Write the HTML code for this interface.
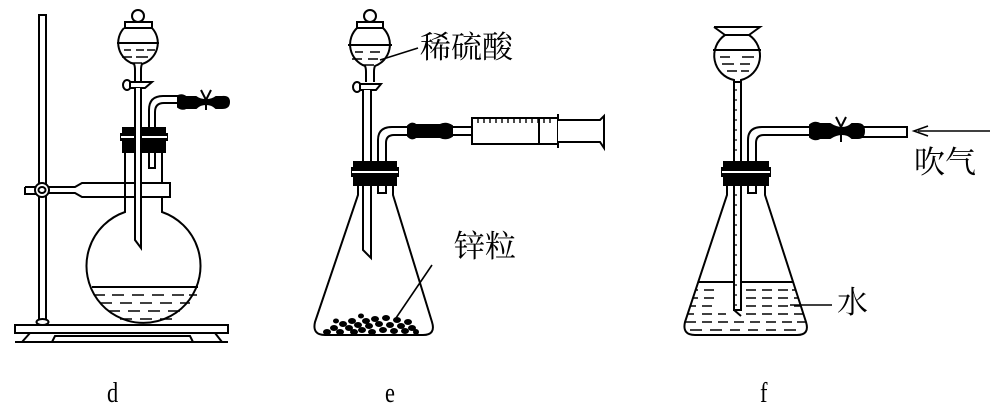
<!DOCTYPE html>
<html><head><meta charset="utf-8"><style>
html,body{margin:0;padding:0;background:#fff;width:1000px;height:411px;overflow:hidden}
svg{display:block}
text{font-family:"Liberation Serif","Noto Serif CJK SC",serif;fill:#000}
.cj{font-family:"Liberation Serif","Noto Serif CJK SC","Noto Sans CJK SC",serif}
</style></head><body>
<svg width="1000" height="411" viewBox="0 0 1000 411" xmlns="http://www.w3.org/2000/svg" fill="none" stroke="#000" stroke-width="2">
<defs>
<clipPath id="cf"><path d="M727 195 L685 322 Q682 335 695 335 H797 Q810 335 806 322 L765 195 Z"/></clipPath>
</defs>
<!-- ===== d ===== -->
<rect x="39" y="15" width="7" height="308" fill="#fff"/>
<ellipse cx="42.5" cy="322" rx="6" ry="3" fill="#fff"/>
<rect x="15" y="325" width="213" height="8" fill="#fff"/>
<path d="M22 342 L30 333 M215 333 L222 342 M15 342 H228" />
<path d="M52 342 L55 336 H190 L193 342"/>
<path d="M25 187 H36 M25 187 V194 H36" />
<path d="M48 187 H75 L82 183 H170 V197 H82 L75 193 H48" fill="#fff"/>
<ellipse cx="42" cy="190" rx="7" ry="7" fill="#fff"/>
<ellipse cx="42" cy="190" rx="3.5" ry="3" />
<path d="M125 152 V212 A57 57 0 1 0 162 212 V152" fill="#fff"/>
<rect x="126" y="184" width="42" height="12" fill="#fff" stroke="none"/>
<path d="M82 183 H170 V197 H82"/>
<path d="M92 287 H198" />
<g stroke-width="1.6">
<path d="M95 295h10M112 295h12M132 295h12M152 295h12M172 295h12M189 295h8"/>
<path d="M100 303h12M120 303h12M140 303h12M160 303h12M180 303h10"/>
<path d="M108 311h12M128 311h12M148 311h12M168 311h12"/>
<path d="M120 319h12M140 319h12M160 319h12"/>
</g>
<path d="M123 128 H165 V134 H167 V140 H165 V152 H123 V140 H121 V134 H123 Z" fill="#000"/>
<path d="M121 137 H167" stroke="#fff" stroke-width="2"/>
<!-- funnel d -->
<circle cx="138" cy="16" r="6" fill="#fff"/>
<rect x="125" y="22" width="27" height="6" fill="#fff"/>
<path d="M124 28 A22 22 0 0 0 134 64 Q135 66 135 70 V82 M152 28 A22 22 0 0 1 142 64 Q141 66 141 70 V82 M124 28 H152" fill="#fff"/>
<path d="M117 43 H159"/>
<g stroke-width="1.6"><path d="M124 50h7M136 50h8M147 50h8M122 57h10M136 57h12M130 63h12"/></g>
<ellipse cx="127" cy="85" rx="4" ry="5" fill="#fff"/>
<path d="M130 82 H152 L145 88 H130 Z" fill="#fff"/>
<path d="M135 88 V240 L141 248 V88" fill="#fff"/>
<path d="M149 128 V110 Q149 96 163 96 H180 M155 128 V112 Q155 103 164 103 H180" />
<path d="M149 152 V168 H155 V152"/>
<path d="M178 96 Q182 94 186 97 H196 Q200 100 206 100 Q212 100 216 97 H222 Q229 96 229 102 Q229 108 222 108 H216 Q212 104 206 104 Q200 104 196 108 H186 Q182 110 178 107 Z" fill="#000"/>
<path d="M201 90 L206 100 L211 90 M206 100 V110" />
<!-- ===== e ===== -->
<circle cx="370" cy="16" r="6" fill="#fff"/>
<rect x="357" y="22" width="26" height="6" fill="#fff"/>
<path d="M357 28 A23 23 0 0 0 365 66 Q366 68 366 72 V82 M383 28 A23 23 0 0 1 375 66 Q374 68 374 72 V82 M357 28 H383" fill="#fff"/>
<path d="M348 45 H392"/>
<g stroke-width="1.6"><path d="M355 52h8M370 52h10M352 59h10M368 59h10M362 65h12"/></g>
<ellipse cx="357" cy="87" rx="4" ry="5" fill="#fff"/>
<path d="M360 84 H381 L376 90 H360 Z" fill="#fff"/>
<path d="M363 90 V250 L371 258 V90" fill="#fff"/>
<path d="M358 185 V195 L315 322 Q312 335 325 335 H423 Q436 335 432 322 L393 195 V185" fill="#fff"/>
<path d="M363 185 V250 L371 258 V185"/>
<path d="M378 185 V193 H386 V185"/>
<path d="M354 162 H396 V168 H398 V176 H396 V185 H354 V176 H352 V168 H354 Z" fill="#000"/>
<path d="M352 172 H398" stroke="#fff" stroke-width="2"/>
<path d="M378 162 V140 Q378 127 392 127 H410 M386 162 V143 Q386 135 394 135 H410"/>
<path d="M408 126 Q412 122 416 125 H440 Q446 122 452 126 V136 Q446 140 440 137 H416 Q412 140 408 136 Z" fill="#000"/>
<path d="M452 127 H472 M452 135 H472"/>
<rect x="472" y="118" width="86" height="26" fill="#fff"/>
<path d="M558 114 V148 M539 118 V144"/>
<g stroke-width="1.4"><path d="M478 118v5M484 118v5M490 118v5M496 118v5M502 118v5M508 118v5M514 118v5M520 118v5M526 118v5M532 118v5M538 118v5M544 118v5M550 118v5"/></g>
<path d="M558 120 H600 L604 116 V148 L600 142 H558" fill="#fff"/>
<g fill="#000" stroke="none">
<ellipse cx="327" cy="332" rx="4" ry="3"/><ellipse cx="334" cy="328" rx="4" ry="3"/><ellipse cx="340" cy="332" rx="4" ry="3"/><ellipse cx="343" cy="324" rx="4" ry="3"/><ellipse cx="349" cy="328" rx="4" ry="3"/><ellipse cx="354" cy="332" rx="4" ry="3"/><ellipse cx="352" cy="321" rx="4" ry="3"/><ellipse cx="358" cy="325" rx="4" ry="3"/><ellipse cx="362" cy="330" rx="4" ry="3"/><ellipse cx="366" cy="321" rx="4" ry="3"/><ellipse cx="369" cy="326" rx="4" ry="3"/><ellipse cx="372" cy="332" rx="4" ry="3"/><ellipse cx="375" cy="319" rx="4" ry="3"/><ellipse cx="379" cy="324" rx="4" ry="3"/><ellipse cx="383" cy="330" rx="4" ry="3"/><ellipse cx="386" cy="318" rx="4" ry="3"/><ellipse cx="390" cy="325" rx="4" ry="3"/><ellipse cx="394" cy="331" rx="4" ry="3"/><ellipse cx="397" cy="320" rx="4" ry="3"/><ellipse cx="401" cy="326" rx="4" ry="3"/><ellipse cx="405" cy="331" rx="4" ry="3"/><ellipse cx="408" cy="322" rx="4" ry="3"/><ellipse cx="412" cy="328" rx="4" ry="3"/><ellipse cx="416" cy="332" rx="3" ry="3"/><ellipse cx="336" cy="321" rx="3" ry="2.5"/><ellipse cx="361" cy="316" rx="3" ry="2.5"/>
</g>
<path d="M380 60 L418 48" stroke-width="1.6"/>
<path d="M432 265 L396 318" stroke-width="1.6"/>
<!-- ===== f ===== -->
<path d="M714 27 H760 L749 35 M714 27 L725 35" />
<path d="M725 35 A25 25 0 0 0 734 80 V84 M749 35 A25 25 0 0 1 741 80 V84 M725 35 H749" fill="#fff"/>
<path d="M713 50 H761"/>
<g stroke-width="1.6"><path d="M720 57h10M742 57h12M722 64h12M740 64h10M727 71h10M741 71h8"/></g>
<path d="M727 185 V195 L685 322 Q682 335 695 335 H797 Q810 335 806 322 L765 195 V185" fill="#fff"/>
<g clip-path="url(#cf)">
<path d="M680 282 H812"/>
<g stroke-width="1.6">
<path d="M686 290h12M704 290h10M746 290h10M762 290h10M778 290h10M792 290h12"/>
<path d="M686 298h12M704 298h10M746 298h10M762 298h10M778 298h10M794 298h12"/>
<path d="M684 306h12M702 306h10M746 306h10M762 306h10M778 306h10M794 306h12"/>
<path d="M684 314h10M702 314h10M718 314h8M746 314h10M762 314h10M778 314h10M794 314h12"/>
<path d="M684 322h12M702 322h10M718 322h10M734 322h10M750 322h10M766 322h10M782 322h10M797 322h10"/>
<path d="M690 330h12M710 330h12M730 330h10M748 330h10M766 330h10M784 330h12"/>
</g>
</g>
<rect x="734" y="82" width="7" height="228" fill="#fff"/>
<path d="M734 310 L741 316" />
<g stroke-width="1.3"><path d="M734 90h3M734 100h3M734 110h3M734 120h3M734 130h3M734 140h3M734 150h3M734 195h3M734 205h3M734 215h3M734 225h3M734 235h3M734 245h3M734 255h3M734 265h3M734 275h3M734 285h3M734 295h3M734 305h3"/></g>
<path d="M724 162 H768 V168 H770 V176 H768 V185 H724 V176 H722 V168 H724 Z" fill="#000"/>
<path d="M722 172 H770" stroke="#fff" stroke-width="2"/>
<path d="M748 162 V140 Q748 127 762 127 H812 M756 162 V143 Q756 135 764 135 H812"/>
<path d="M748 185 V193 H756 V185"/>
<path d="M810 125 Q815 121 820 124 H830 Q836 128 842 128 Q848 128 852 124 H858 Q864 124 864 131 Q864 138 858 138 H852 Q848 134 842 134 Q836 134 830 138 H820 Q815 141 810 137 Z" fill="#000"/>
<path d="M836 117 L841 127 L846 117 M841 127 V142"/>
<path d="M862 127 H907 V137 H862"/>
<path d="M990 131 H918" stroke-width="1.6"/>
<path d="M928 126 L914 131 L928 136" stroke-width="1.6"/>
<path d="M790 305 H832" stroke-width="1.6"/>
<g stroke="none">
<text class="cj" x="420" y="58" font-size="31">稀硫酸</text>
<text class="cj" x="454" y="257" font-size="31">锌粒</text>
<text class="cj" x="914" y="173" font-size="31">吹气</text>
<text class="cj" x="837" y="313" font-size="31">水</text>
<text x="107" y="402" font-size="28" transform="translate(107 0) scale(0.8 1) translate(-107 0)">d</text>
<text x="385" y="402" font-size="28" transform="translate(385 0) scale(0.8 1) translate(-385 0)">e</text>
<text x="760" y="402" font-size="28" transform="translate(760 0) scale(0.8 1) translate(-760 0)">f</text>
</g>
</svg>
</body></html>
